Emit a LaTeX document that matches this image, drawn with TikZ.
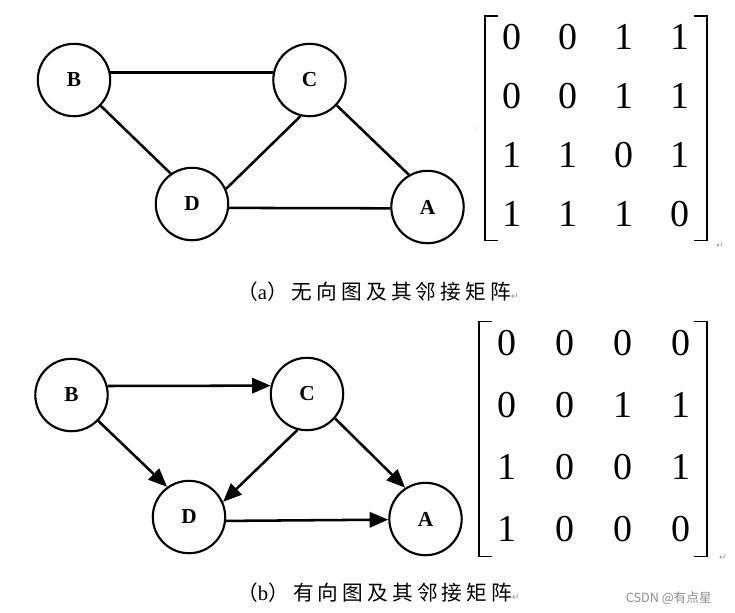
\documentclass[tikz,border=0pt]{standalone}
\usepackage{fontspec}
\setmainfont{Liberation Serif}
\newfontfamily\cjk[LetterSpace=20]{Noto Sans CJK SC}
\newfontfamily\wmfont{Noto Sans CJK SC}
\newfontfamily\symfont{DejaVu Sans}
\usetikzlibrary{arrows.meta,matrix,calc}

\begin{document}
\begin{tikzpicture}[x=0.75pt,y=-0.75pt,
    vertex/.style={draw, circle, line width=1.6pt, minimum size=54.3pt, inner sep=0pt, font=\fontsize{16}{16}\selectfont\bfseries},
    edge/.style={line width=1.9pt},
    arc/.style={line width=1.9pt, -{Triangle[length=14pt,width=11.5pt]}},
    adj/.style={matrix of nodes, inner sep=0pt, nodes={inner sep=0pt, font=\fontsize{28.5}{28.5}\selectfont}},
    bracket/.style={line width=1.2pt},
    caption/.style={anchor=west, inner sep=0pt, font=\cjk\fontsize{15.5}{15.5}\selectfont},
    retmark/.style={text=black!40, inner sep=0pt, font=\symfont\fontsize{7}{7}\selectfont}]
    \useasboundingbox (0,0) rectangle (735,612);

    \node[vertex] (b1) at (74,80) {B};
    \node[vertex] (c1) at (309.5,80) {C};
    \node[vertex] (d1) at (192,204) {D};
    \node[vertex] (a1) at (427.5,207) {A};
    \draw[edge] (b1.12) -- (c1.168);
    \draw[edge] (b1.-44) -- (d1.125);
    \draw[edge] (c1.-104) -- (d1.24);
    \draw[edge] (c1.-43) -- (a1.120);
    \draw[edge] (d1.-6) -- (a1.182);

    \matrix[adj, nodes={minimum width=42.2pt, minimum height=44.1pt}] (m1) at (596,125.8) {
        0 & 0 & 1 & 1 \\
        0 & 0 & 1 & 1 \\
        1 & 1 & 0 & 1 \\
        1 & 1 & 1 & 0 \\
    };
    \draw[bracket] ($(m1.north west)+(15,8)$) -- ++(-13,0) |- ($(m1.south west)+(15,-3.5)$);
    \draw[bracket] ($(m1.north east)+(-15,8)$) -- ++(13,0) |- ($(m1.south east)+(-15,-3.5)$);
    \node[retmark] (ret1) at (720,246) {↵};
    \node[text=cyan!70, inner sep=0pt, font=\tiny] (dots) at (476,128) {:};

    \node[caption] (capa) at (237,292) {（{\rmfamily a}）无向图及其邻接矩阵{\symfont\color{black!40}\fontsize{7}{7}\selectfont↵}};

    \node[vertex] (b2) at (71.5,395) {B};
    \node[vertex] (c2) at (307,394) {C};
    \node[vertex] (d2) at (189,517) {D};
    \node[vertex] (a2) at (425.5,519) {A};
    \draw[arc] (b2.14) -- (c2.167);
    \draw[arc] (b2.-44) -- (d2.126);
    \draw[arc] (c2.-105) -- (d2.24);
    \draw[arc] (c2.-41) -- (a2.123);
    \draw[arc] (d2.-6) -- (a2.181);

    \matrix[adj, nodes={minimum width=43.5pt, minimum height=46.3pt}] (m2) at (594,436) {
        0 & 0 & 0 & 0 \\
        0 & 0 & 1 & 1 \\
        1 & 0 & 0 & 1 \\
        1 & 0 & 0 & 0 \\
    };
    \draw[bracket] ($(m2.north west)+(14,9.5)$) -- ++(-13,0) |- ($(m2.south west)+(14,-3.5)$);
    \draw[bracket] ($(m2.north east)+(-16,9.5)$) -- ++(13,0) |- ($(m2.south east)+(-16,-3.5)$);
    \node[retmark] (ret2) at (723,558) {↵};

    \node[caption] (capb) at (237,593) {（{\rmfamily b}）有向图及其邻接矩阵{\symfont\color{black!40}\fontsize{7}{7}\selectfont↵}};
    \node[anchor=east, text=black!45, inner sep=0pt, font=\wmfont\fontsize{9.5}{9.5}\selectfont] (wm) at (712,598) {CSDN @有点星};
\end{tikzpicture}
\end{document}
